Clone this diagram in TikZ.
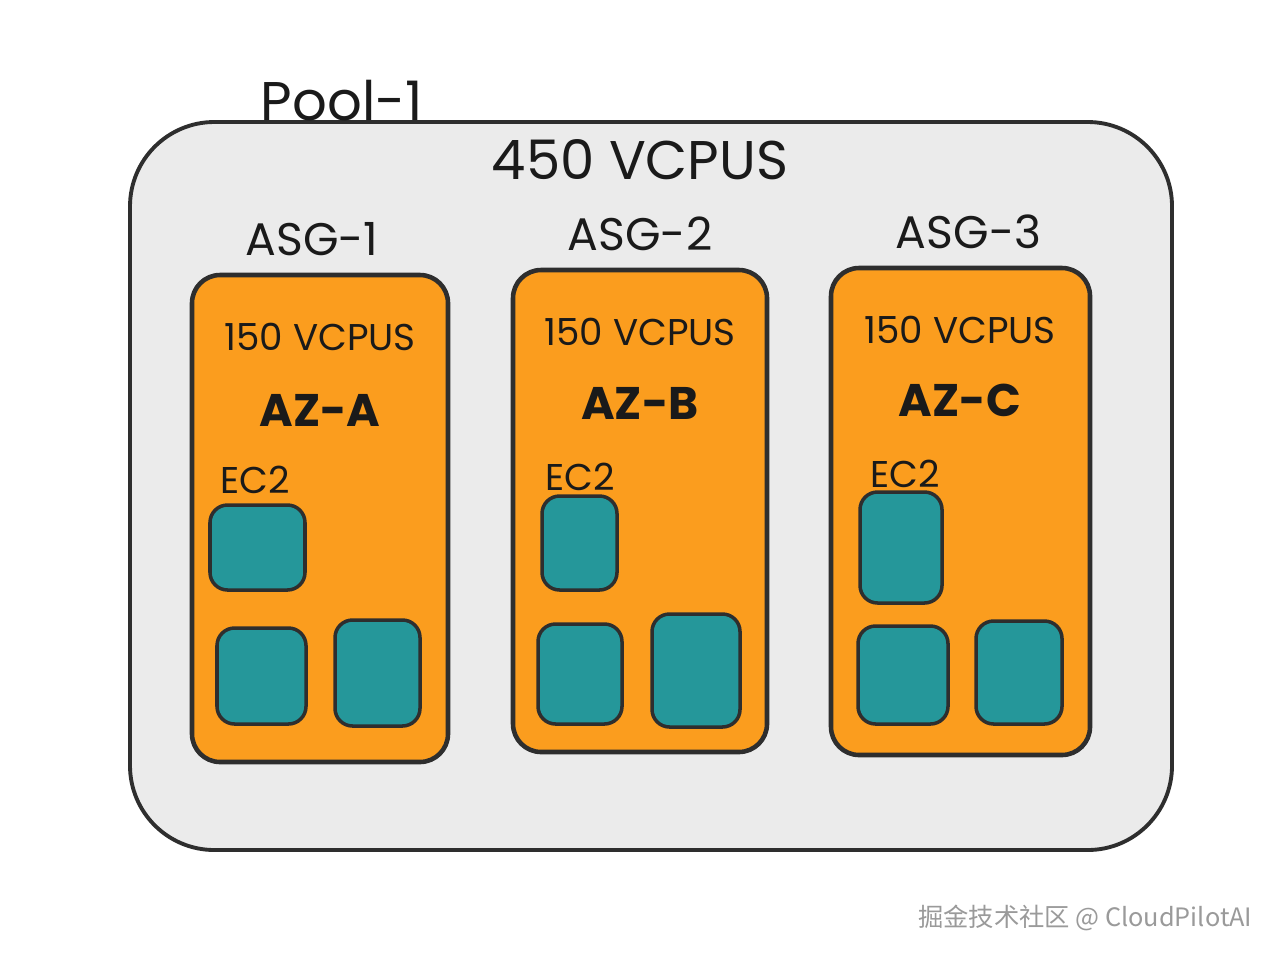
\documentclass[tikz,border=0pt]{standalone}
\usepackage{fontspec}
\setmainfont{Poppins}
\newfontfamily\cjkfont{Noto Sans CJK SC}
\usepackage{xcolor}
\usepackage{tikz}
\usetikzlibrary{positioning}
\definecolor{poolgray}{HTML}{EBEBEB}
\definecolor{inkdark}{HTML}{2E2E2E}
\definecolor{inktext}{HTML}{1A1A1A}
\definecolor{asgorange}{HTML}{FB9D1E}
\definecolor{ec2teal}{HTML}{25979A}
\definecolor{wmgray}{HTML}{9A9A9A}
\tikzset{
  pool/.style={draw=inkdark,fill=poolgray,rounded corners=24pt,line width=1.1pt,minimum width=104.2mm,minimum height=72.8mm,inner sep=0pt},
  asg/.style={draw=inkdark,fill=asgorange,rounded corners=8pt,line width=1.3pt,inner sep=0pt},
  ec2box/.style={draw=inkdark,fill=ec2teal,rounded corners=5pt,line width=1pt,inner sep=0pt},
  hdbig/.style={font=\fontsize{15.5}{18}\selectfont,text=inktext,inner sep=0pt},
  hdasg/.style={font=\fontsize{13}{16}\selectfont,text=inktext,inner sep=0pt},
  cpu/.style={font=\fontsize{10.6}{13}\selectfont,text=inktext,inner sep=0pt},
  az/.style={font=\fontsize{13}{16}\selectfont\bfseries,text=inktext,inner sep=0pt},
  ec2lbl/.style={font=\fontsize{10.6}{13}\selectfont,text=inktext,inner sep=0pt},
  wm/.style={font=\cjkfont\fontsize{7.2}{9}\selectfont,text=wmgray,inner sep=0pt},
}
\begin{document}
\begin{tikzpicture}
\useasboundingbox[fill=white] (0,0) rectangle (12.8,9.6);
% pool
\node[pool] (pool) at (6.51,4.74) {};
\node[hdbig] (poolname) at (3.42,8.59) {Pool-1};
\node[hdbig] (poolcpu) at (6.40,8.00) {450 VCPUS};
% auto scaling groups
\node[asg,minimum width=25.6mm,minimum height=48.7mm] (asg1) at (3.20,4.415) {};
\node[asg,minimum width=25.4mm,minimum height=48.2mm] (asg2) at (6.40,4.49) {};
\node[asg,minimum width=25.9mm,minimum height=48.7mm] (asg3) at (9.605,4.485) {};
\node[hdasg,above=1.6mm of asg1,xshift=-0.8mm] (asg1name) {ASG-1};
\node[hdasg,above=1.6mm of asg2] (asg2name) {ASG-2};
\node[hdasg,above=1.6mm of asg3,xshift=0.8mm] (asg3name) {ASG-3};
\node[cpu] (cpu1) at (3.20,6.23) {150 VCPUS};
\node[cpu] (cpu2) at (6.40,6.28) {150 VCPUS};
\node[cpu] (cpu3) at (9.60,6.30) {150 VCPUS};
\node[az] (aza) at (3.20,5.50) {AZ-A};
\node[az] (azb) at (6.40,5.57) {AZ-B};
\node[az] (azc) at (9.60,5.60) {AZ-C};
\node[ec2lbl] (ec2a) at (2.55,4.80) {EC2};
\node[ec2lbl] (ec2b) at (5.80,4.83) {EC2};
\node[ec2lbl] (ec2c) at (9.05,4.86) {EC2};
% instances
\node[ec2box,minimum width=9.5mm,minimum height=8.5mm] (a1) at (2.575,4.125) {};
\node[ec2box,minimum width=8.9mm,minimum height=9.6mm] (a2) at (2.615,2.84) {};
\node[ec2box,minimum width=8.5mm,minimum height=10.6mm] (a3) at (3.775,2.87) {};
\node[ec2box,minimum width=7.5mm,minimum height=9.4mm] (b1) at (5.795,4.17) {};
\node[ec2box,minimum width=8.4mm,minimum height=10.0mm] (b2) at (5.80,2.86) {};
\node[ec2box,minimum width=8.8mm,minimum height=11.3mm] (b3) at (6.96,2.895) {};
\node[ec2box,minimum width=8.2mm,minimum height=11.1mm] (c1) at (9.01,4.125) {};
\node[ec2box,minimum width=9.0mm,minimum height=9.8mm] (c2) at (9.03,2.85) {};
\node[ec2box,minimum width=8.6mm,minimum height=10.3mm] (c3) at (10.19,2.875) {};
% watermark
\node[wm,anchor=east] (mark) at (12.53,0.42) {掘金技术社区 @ CloudPilotAI};
\end{tikzpicture}
\end{document}
